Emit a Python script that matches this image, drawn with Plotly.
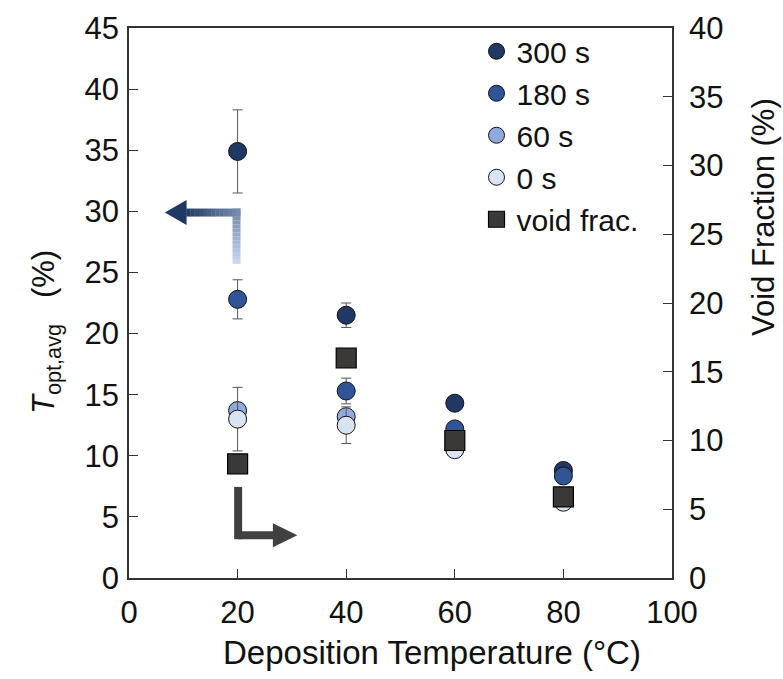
import plotly.graph_objects as go
import numpy as np

temps = [20, 40, 60, 80]
series_names = ["300 s", "180 s", "60 s", "0 s"]
t300 = [34.9, 21.5, 14.3, 8.8]
t180 = [22.8, 15.3, 12.2, 8.35]
t60 = [13.7, 13.2, 10.6, 6.5]
t0 = [13.0, 12.5, 10.5, 6.2]
err300 = [3.4, 1.0, 0, 0]
err180 = [1.6, 1.05, 0, 0]
err60 = [0, 0, 0, 0]
err0 = [2.6, 1.5, 0, 0]
void_frac = [8.3, 16.0, 10.0, 5.9]

x_title = "Deposition Temperature (°C)"
y_title = "<i>T</i><sub>opt,avg</sub>   (%)"
y2_title = "Void Fraction (%)"

colors = ["#1f3864", "#2f5597", "#8faadc", "#dae3f3"]
void_color = "#3b3838"
FONT = "Liberation Sans, Arial, sans-serif"
FS = 31
TFS = 33
LFS = 30

fig = go.Figure()
for name, vals, errs, col in zip(series_names, [t300, t180, t60, t0],
                                 [err300, err180, err60, err0], colors):
    fig.add_trace(go.Scatter(
        x=temps, y=vals, mode="markers", name=name,
        marker=dict(symbol="circle", size=18, color=col,
                    line=dict(color="#111111", width=1)),
        error_y=dict(type="data", array=errs, visible=True,
                     color="#555555", thickness=1, width=5),
        yaxis="y"))
fig.add_trace(go.Scatter(
    x=temps, y=void_frac, mode="markers", name="void frac.",
    marker=dict(symbol="square", size=20, color=void_color,
                line=dict(color="#000000", width=1.2)),
    yaxis="y2"))

# ---- arrows (decorations) ----
xpx = 100 / 543.0
ypx = 45 / 550.0

def grad(c1, c2, t):
    a = np.array([int(c1[i:i + 2], 16) for i in (1, 3, 5)])
    b = np.array([int(c2[i:i + 2], 16) for i in (1, 3, 5)])
    c = (a + (b - a) * t).astype(int)
    return "#%02x%02x%02x" % tuple(c)

shapes = []
bx, by0, by1 = 19.8, 25.7, 29.9
bx_base, bx_tip = 10.6, 6.6
lw = 8
light, dark = "#c9d7f0", "#1f3864"
seg_v = np.linspace(by0, by1, 14)
total = (by1 - by0) / ypx + (bx - bx_base) / xpx
for i in range(len(seg_v) - 1):
    t = ((seg_v[i] - by0) / ypx) / total
    shapes.append(dict(type="line", xref="x", yref="y", x0=bx, x1=bx,
                       y0=seg_v[i], y1=seg_v[i + 1] + (0 if i < len(seg_v) - 2 else lw / 2 * ypx),
                       line=dict(color=grad(light, dark, t), width=lw)))
seg_h = np.linspace(bx + lw / 2 * xpx, bx_base, 14)
for i in range(len(seg_h) - 1):
    t = ((by1 - by0) / ypx + (bx - seg_h[i]) / xpx) / total
    t = min(max(t, 0), 1)
    shapes.append(dict(type="line", xref="x", yref="y", x0=seg_h[i], x1=seg_h[i + 1] - 0.05,
                       y0=by1, y1=by1, line=dict(color=grad(light, dark, t), width=lw)))
hw = 12.5 * ypx
shapes.append(dict(type="path", xref="x", yref="y",
                   path=f"M {bx_base},{by1 - hw} L {bx_tip},{by1} L {bx_base},{by1 + hw} Z",
                   fillcolor=dark, line=dict(width=0)))

gx, gy0, gy1 = 20.1, 7.45, 3.5
gx_base, gx_tip = 26.5, 31.0
gcol = "#404040"
shapes.append(dict(type="line", xref="x", yref="y", x0=gx, x1=gx, y0=gy0, y1=gy1 - lw / 2 * ypx,
                   line=dict(color=gcol, width=lw)))
shapes.append(dict(type="line", xref="x", yref="y", x0=gx, x1=gx_base + 0.1, y0=gy1, y1=gy1,
                   line=dict(color=gcol, width=lw)))
hw2 = 12 * ypx
shapes.append(dict(type="path", xref="x", yref="y",
                   path=f"M {gx_base},{gy1 - hw2} L {gx_tip},{gy1} L {gx_base},{gy1 + hw2} Z",
                   fillcolor=gcol, line=dict(width=0)))

axis_common = dict(showline=True, linecolor="#333333", linewidth=1.5, ticks="inside",
                   ticklen=9, tickcolor="#333333", tickwidth=1.2, showgrid=False,
                   zeroline=False, tickfont=dict(family=FONT, size=FS, color="#111111"))

PW, PH = 543.0, 550.0
def px_x(p):
    return (p - 129) / PW
def px_y(p):
    return (578 - p) / PH

annotations = [
    dict(text=x_title, xref="paper", yref="paper", x=px_x(432), y=px_y(652),
         showarrow=False, xanchor="center", yanchor="middle",
         font=dict(family=FONT, size=TFS, color="#111111")),
    dict(text=y_title, xref="paper", yref="paper", x=px_x(46), y=px_y(332),
         showarrow=False, xanchor="center", yanchor="middle", textangle=-90,
         font=dict(family=FONT, size=FS, color="#111111")),
    dict(text=y2_title, xref="paper", yref="paper", x=px_x(763), y=px_y(217),
         showarrow=False, xanchor="center", yanchor="middle", textangle=-90,
         font=dict(family=FONT, size=FS, color="#111111")),
]

fig.update_layout(
    width=783, height=679,
    margin=dict(l=129, r=111, t=28, b=101),
    plot_bgcolor="white", paper_bgcolor="white",
    font=dict(family=FONT, size=FS, color="#111111"),
    shapes=shapes,
    annotations=annotations,
    xaxis=dict(range=[0, 100], dtick=20, mirror=True, ticklabelstandoff=6, **axis_common),
    yaxis=dict(range=[0, 45], dtick=5, ticklabelstandoff=2, **axis_common),
    yaxis2=dict(range=[0, 40], dtick=5, overlaying="y", side="right", ticklabelstandoff=9,
                **axis_common),
    legend=dict(x=0.64, y=1.005, xanchor="left", yanchor="top",
                bgcolor="rgba(0,0,0,0)", font=dict(family=FONT, size=LFS),
                tracegroupgap=0, itemwidth=30),
    showlegend=True,
)

fig.write_html("out.html")
